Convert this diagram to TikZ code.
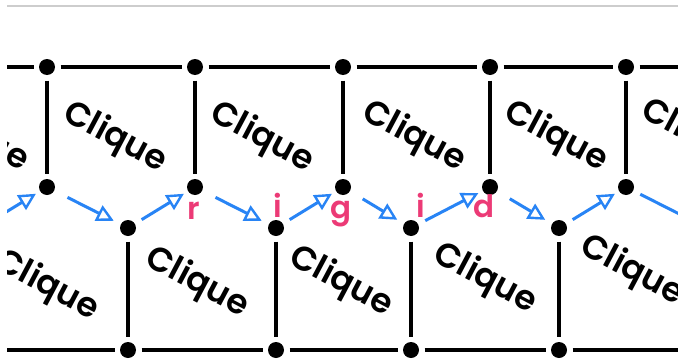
\documentclass[tikz,border=0pt]{standalone}
\usepackage{fontspec}
\usetikzlibrary{arrows.meta}
\newfontfamily\cliquefont{Poppins SemiBold}
\definecolor{arrowblue}{RGB}{40,132,245}
\definecolor{letterpink}{RGB}{236,58,118}
\definecolor{rulegray}{RGB}{205,205,205}
\tikzset{
  dot/.style={circle, fill=black, inner sep=0pt, minimum size=16pt, outer sep=5.5pt},
  edge/.style={line width=3.6pt, black},
  edgeheavy/.style={line width=4.4pt, black},
  flow/.style={line width=3pt, arrowblue, -{Triangle[open, length=17pt, width=17pt, line width=2.4pt]}},
  downflow/.style={flow, shorten <=23pt, shorten >=16pt},
  upflow/.style={flow, shorten <=16pt, shorten >=13pt},
  cliquelabel/.style={font=\cliquefont\fontsize{34}{34}\selectfont, rotate=-28, inner sep=0pt},
  letter/.style={font=\cliquefont\fontsize{31}{31}\selectfont, text=letterpink, anchor=base, inner sep=0pt}
}
\begin{document}
\begin{tikzpicture}[x=1pt, y=-1pt]
\useasboundingbox (0,0) rectangle (678,359);
\fill[white] (0,0) rectangle (678,359);
\begin{scope}
\clip (7,0) rectangle (678,359);
% rule along the top
\draw[rulegray, line width=1.5pt] (7,6) -- (678,6);

% upper row of vertices and the pendant vertices beneath them
\foreach \i/\x in {1/47, 2/195, 3/343, 4/490, 5/626} {
  \node[dot] (t\i) at (\x,67) {};
  \node[dot] (u\i) at (\x,187) {};
  \draw[edge] (t\i) -- (u\i);
}
% lower row of vertices and the pendant vertices above them
\foreach \i/\x in {1/128, 2/276, 3/411, 4/559} {
  \node[dot] (b\i) at (\x,350) {};
  \node[dot] (l\i) at (\x,228) {};
  \draw[edge] (l\i) -- (b\i);
}
\coordinate (topleft) at (7,67);
\coordinate (topright) at (678,67);
\coordinate (botleft) at (7,350);
\coordinate (botright) at (678,350);
\coordinate (l0) at (-20,228);
\coordinate (l5) at (707,228);

% horizontal chains
\draw[edge] (topleft) -- (t1);
\draw[edge] (t1) -- (t2);
\draw[edge] (t2) -- (t3);
\draw[edge] (t3) -- (t4);
\draw[edge] (t4) -- (t5);
\draw[edgeheavy] (t5) -- (topright);
\draw[edge] (botleft) -- (b1);
\draw[edge] (b1) -- (b2);
\draw[edge] (b2) -- (b3);
\draw[edge] (b3) -- (b4);
\draw[edgeheavy] (b4) -- (botright);

% zigzag walk
\draw[upflow] (l0) -- (u1.center);
\draw[downflow] (u1.center) -- (l1.center);
\draw[upflow] (l1.center) -- (u2.center);
\draw[downflow] (u2.center) -- (l2.center);
\draw[upflow] (l2.center) -- (u3.center);
\draw[downflow] (u3.center) -- (l3.center);
\draw[upflow] (l3.center) -- (u4.center);
\draw[downflow] (u4.center) -- (l4.center);
\draw[upflow] (l4.center) -- (u5.center);
\draw[line width=3pt, arrowblue, shorten <=16pt] (u5.center) -- (l5);

% clique labels
\node[cliquelabel] (c0) at (-23,137) {Clique};
\node[cliquelabel] (c1) at (115,138) {Clique};
\node[cliquelabel] (c2) at (262,138) {Clique};
\node[cliquelabel] (c3) at (414,137) {Clique};
\node[cliquelabel] (c4) at (556,137) {Clique};
\node[cliquelabel] (c5) at (693,135) {Clique};
\node[cliquelabel] (d0) at (47,286) {Clique};
\node[cliquelabel] (d1) at (197,283) {Clique};
\node[cliquelabel] (d2) at (341,282) {Clique};
\node[cliquelabel] (d3) at (485,279) {Clique};
\node[cliquelabel] (d4) at (632,271) {Clique};

% the word spelled along the walk
\node[letter] (r) at (194,219) {r};
\node[letter] (i1) at (278,217) {i};
\node[letter] (g) at (341,218) {g};
\node[letter] (i2) at (421,217) {i};
\node[letter] (d) at (484,217) {d};
\end{scope}
\end{tikzpicture}
\end{document}
